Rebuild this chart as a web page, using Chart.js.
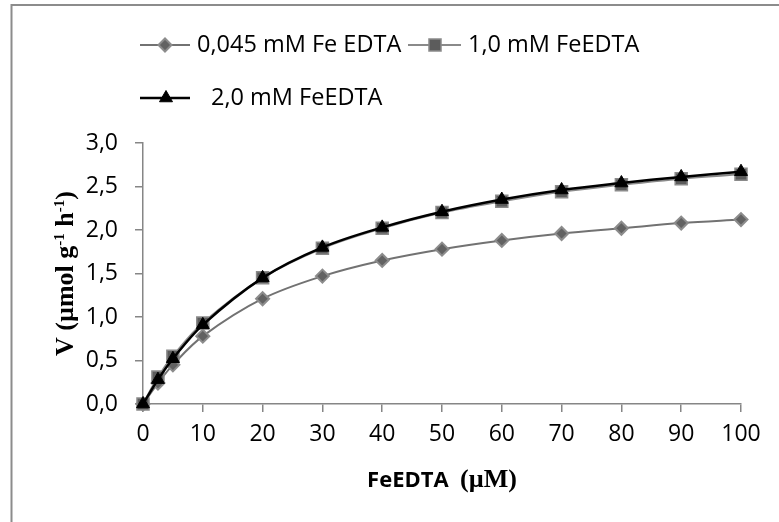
<!DOCTYPE html>
<html><head><meta charset="utf-8">
<script src="https://cdn.jsdelivr.net/npm/chart.js@4/dist/chart.umd.min.js"></script>
<style>html,body{margin:0;padding:0;background:#fff}#wrap{width:779px;height:522px;position:relative}</style>
</head><body><div id="wrap"><canvas id="c" width="779" height="522"></canvas></div>
<script>
const xValues = [0, 2.5, 5, 10, 20, 30, 40, 50, 60, 70, 80, 90, 100];
const series045 = [0, 0.24, 0.45, 0.78, 1.21, 1.47, 1.65, 1.78, 1.88, 1.96, 2.02, 2.08, 2.12];
const series10 = [0, 0.31, 0.55, 0.93, 1.45, 1.79, 2.02, 2.20, 2.33, 2.44, 2.52, 2.59, 2.64];
const series20 = [0, 0.28, 0.52, 0.91, 1.45, 1.80, 2.03, 2.21, 2.35, 2.46, 2.54, 2.61, 2.67];
const seriesLabels = ['0,045 mM Fe EDTA', '1,0 mM FeEDTA', '2,0 mM FeEDTA'];
const xTickValues = [0, 10, 20, 30, 40, 50, 60, 70, 80, 90, 100];
const yTickValues = [0, 0.5, 1, 1.5, 2, 2.5, 3];
const xTitleSans = 'FeEDTA';
const xTitleSerif = '(\u00b5M)';
const yTitleParts = [['V (\u00b5mol g', false], ['-1', true], [' h', false], ['-1', true], [')', false]];

const toPts = arr => arr.map((v, i) => ({x: xValues[i], y: v}));
const SANS = '"Open Sans", "Liberation Sans", sans-serif';
const SERIF = '"Liberation Serif", "Times New Roman", serif';
const AXIS = '#868686';

const datasets = [
  {label: seriesLabels[0], data: toPts(series045), borderColor: '#727272', borderWidth: 2,
   pointStyle: 'rectRot', pointRadius: 6.5, pointBorderWidth: 2, pointBackgroundColor: '#626262', pointBorderColor: '#8c8c8c',
   tension: 0.35, order: 3, clip: false, legendPos: [140, 190, 45, 165, 197]},
  {label: seriesLabels[1], data: toPts(series10), borderColor: '#8a8a8a', borderWidth: 2,
   pointStyle: 'rect', pointRadius: 8.5, pointBorderWidth: 1.5, pointBackgroundColor: '#5c5c5c', pointBorderColor: '#8a8a8a',
   tension: 0.35, order: 2, clip: false, legendPos: [408, 461, 45, 435, 468]},
  {label: seriesLabels[2], data: toPts(series20), borderColor: '#000000', borderWidth: 2.5,
   pointStyle: 'triangle', pointRadius: 7.5, pointBorderWidth: 1, pointBackgroundColor: '#000000', pointBorderColor: '#000000',
   tension: 0.35, order: 1, clip: false, legendPos: [140, 190, 98, 166, 211]}
];

const decor = {
  id: 'decor',
  beforeDraw(chart) {
    const ctx = chart.ctx;
    ctx.save();
    ctx.fillStyle = '#fff';
    ctx.fillRect(0, 0, chart.width, chart.height);
    ctx.strokeStyle = '#8c8c8c';
    ctx.lineWidth = 2;
    ctx.beginPath();
    ctx.moveTo(11.5, chart.height + 2);
    ctx.lineTo(11.5, 5);
    ctx.lineTo(chart.width + 2, 5);
    ctx.stroke();
    ctx.restore();
  },
  afterDraw(chart) {
    const ctx = chart.ctx;
    ctx.save();
    // legend
    chart.data.datasets.forEach(ds => {
      const [x1, x2, y, mx, tx] = ds.legendPos;
      ctx.strokeStyle = ds.borderColor;
      ctx.lineWidth = ds.borderWidth;
      ctx.beginPath(); ctx.moveTo(x1, y); ctx.lineTo(x2, y); ctx.stroke();
      ctx.fillStyle = ds.pointBackgroundColor;
      ctx.strokeStyle = ds.pointBorderColor;
      ctx.lineWidth = ds.pointBorderWidth;
      Chart.helpers.drawPoint(ctx, {pointStyle: ds.pointStyle, radius: ds.pointRadius, borderWidth: ds.pointBorderWidth, rotation: 0}, mx, y);
      ctx.fillStyle = '#000';
      ctx.font = '23.5px ' + SANS;
      ctx.textBaseline = 'middle';
      ctx.textAlign = 'left';
      ctx.fillText(ds.label, tx, y);
    });
    // x title
    const ca = chart.chartArea;
    ctx.fillStyle = '#000';
    ctx.textBaseline = 'alphabetic';
    ctx.font = 'bold 22px ' + SANS;
    const w1 = ctx.measureText(xTitleSans + '  ').width;
    ctx.font = 'bold 26px ' + SERIF;
    const w2 = ctx.measureText(xTitleSerif).width;
    let xs = (ca.left + ca.right) / 2 - (w1 + w2) / 2;
    const xb = 487;
    ctx.font = 'bold 22px ' + SANS;
    ctx.fillText(xTitleSans + '  ', xs, xb);
    ctx.font = 'bold 26px ' + SERIF;
    ctx.fillText(xTitleSerif, xs + w1, xb);
    // y title
    ctx.translate(73, (ca.top + ca.bottom) / 2);
    ctx.rotate(-Math.PI / 2);
    let total = 0;
    yTitleParts.forEach(([t, sup]) => {
      ctx.font = 'bold ' + (sup ? 15 : 26) + 'px ' + SERIF;
      total += ctx.measureText(t).width;
    });
    let px = -total / 2;
    yTitleParts.forEach(([t, sup]) => {
      ctx.font = 'bold ' + (sup ? 15 : 26) + 'px ' + SERIF;
      ctx.fillText(t, px, sup ? -9 : 0);
      px += ctx.measureText(t).width;
    });
    ctx.restore();
  }
};

const fmt = v => v.toFixed(1).replace('.', ',');

new Chart(document.getElementById('c'), {
  type: 'line',
  data: {datasets},
  options: {
    responsive: false,
    devicePixelRatio: 1,
    animation: false,
    plugins: {legend: {display: false}, tooltip: {enabled: false}},
    layout: {padding: {left: 0, top: 143, right: 38, bottom: 0}},
    scales: {
      x: {
        type: 'linear', min: 0, max: 100,
        afterFit(s) { s.height = 118; },
        afterBuildTicks(s) { s.ticks = xTickValues.map(v => ({value: v})); },
        grid: {drawOnChartArea: false, color: AXIS, tickLength: 8, lineWidth: 1.5},
        border: {color: AXIS, width: 1.5},
        ticks: {color: '#000', font: {family: SANS, size: 23}, padding: 9, maxRotation: 0, callback: v => String(v)}
      },
      y: {
        min: 0, max: 3,
        afterFit(s) { s.width = 143; },
        afterBuildTicks(s) { s.ticks = yTickValues.map(v => ({value: v})); },
        grid: {drawOnChartArea: false, color: AXIS, tickLength: 8, lineWidth: 1.5},
        border: {color: AXIS, width: 1.5},
        ticks: {color: '#000', font: {family: SANS, size: 23}, padding: 17, callback: v => fmt(v)}
      }
    }
  },
  plugins: [decor]
});
</script></body></html>
